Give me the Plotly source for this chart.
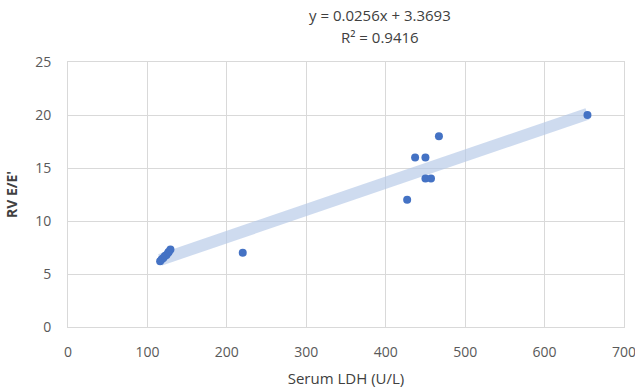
import plotly.graph_objects as go

# Data
ldh = [116, 118, 120, 122, 124, 126, 127, 129, 220, 427, 437, 450, 450, 457, 467, 654]
rv_ee = [6.2, 6.4, 6.5, 6.7, 6.8, 7.0, 7.1, 7.3, 7.0, 12.0, 16.0, 16.0, 14.0, 14.0, 18.0, 20.0]

slope = 0.0256
intercept = 3.3693
r2 = 0.9416

x_ticks = [0, 100, 200, 300, 400, 500, 600, 700]
y_ticks = [0, 5, 10, 15, 20, 25]

tx = [min(ldh), max(ldh)]
ty = [slope * v + intercept for v in tx]

fig = go.Figure()
fig.add_trace(go.Scatter(x=tx, y=ty, mode="lines",
                         line=dict(color="rgba(180,199,231,0.65)", width=12),
                         hoverinfo="skip", showlegend=False))
fig.add_trace(go.Scatter(x=ldh, y=rv_ee, mode="markers",
                         marker=dict(color="#4472C4", size=8),
                         showlegend=False))

eq_font = dict(family="Open Sans", size=15, color="#404040")
fig.add_annotation(xref="paper", yref="paper", x=0.561, y=1.0, yshift=47,
                   xanchor="center", yanchor="middle", showarrow=False,
                   text=f"y = {slope}x + {intercept}", font=eq_font)
fig.add_annotation(xref="paper", yref="paper", x=0.561, y=1.0, yshift=25,
                   xanchor="center", yanchor="middle", showarrow=False,
                   text=f"R² = {r2}", font=eq_font)

grid = "#d9d9d9"
fig.update_layout(
    width=635, height=388,
    margin=dict(l=68, r=11, t=62, b=61),
    paper_bgcolor="white", plot_bgcolor="white",
    font=dict(family="Open Sans", size=14, color="#595959"),
    xaxis=dict(range=[0, 700], tickvals=x_ticks, showgrid=True,
               gridcolor=grid, gridwidth=1, zeroline=False,
               showline=True, linecolor=grid, linewidth=1, mirror=True,
               ticks="outside", ticklen=12, tickcolor="rgba(0,0,0,0)",
               ticklabeloverflow="allow", automargin=False,
               title=dict(text="Serum LDH (U/L)", standoff=13,
                          font=dict(size=15, color="#404040"))),
    yaxis=dict(range=[0, 25], tickvals=y_ticks, showgrid=True,
               gridcolor=grid, gridwidth=1, zeroline=False,
               showline=True, linecolor=grid, linewidth=1, mirror=True,
               ticks="outside", ticklen=13, tickcolor="rgba(0,0,0,0)",
               automargin=False,
               title=dict(text="<b>RV E/E'</b>", standoff=14,
                          font=dict(size=14, color="#404040"))),
)

fig.write_html("out.html",
               config={"displayModeBar": False},
               post_script="document.body.style.margin='0';document.body.style.overflow='hidden';")
